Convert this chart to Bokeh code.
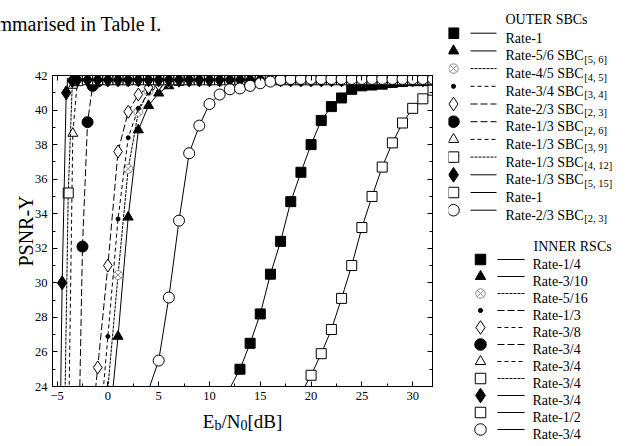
import numpy as np
from bokeh.plotting import figure
from bokeh.models import Range1d, LinearAxis, SingleIntervalTicker
from bokeh.layouts import row, column
from bokeh.embed import file_html
from bokeh.resources import INLINE
from bokeh.core.properties import value

FONT = "Liberation Serif"

# ---------------- data ----------------
plateau_x = [-3, -2, -1, 0, 1, 2, 3, 4, 5, 6, 7, 8, 9, 10, 11, 12, 13, 14, 15, 16,
             17, 18, 19, 20, 21, 22, 23, 24, 25, 26, 27, 28, 29, 30, 31, 32]
plateau_y = [41.7, 41.75, 41.75, 41.75, 41.75, 41.75, 41.75, 41.75, 41.75, 41.75,
             41.75, 41.75, 41.75, 41.75, 41.75, 41.75, 41.75, 41.75, 41.75, 41.75,
             41.75, 41.75, 41.75, 41.75, 41.75, 41.75, 41.75, 41.75, 41.75, 41.75,
             41.75, 41.75, 41.75, 41.75, 41.75, 41.75]

rate1_x = [12, 13, 14, 15, 16, 17, 18, 19, 20, 21, 22, 23, 24, 25, 26, 27, 28, 29, 30, 31, 32]
rate1_y = [23.9, 25.0, 26.5, 28.2, 30.5, 32.4, 34.7, 36.4, 38.0, 39.4, 40.2, 40.7, 41.2,
           41.4, 41.45, 41.5, 41.6, 41.65, 41.7, 41.7, 41.75]
sbc56_x = [0, 1, 2, 3, 4, 5, 6, 7]
sbc56_y = [20.9, 26.9, 33.8, 38.85, 40.26, 40.98, 41.4, 41.6]
sbc45_x = [0, 1, 2, 3, 4, 5, 6]
sbc45_y = [23.9, 30.45, 36.6, 39.9, 41.1, 41.5, 41.65]
sbc34_x = [-1, 0, 1, 2, 3, 4, 5, 6]
sbc34_y = [20.1, 26.9, 33.7, 38.4, 40.1, 41.0, 41.4, 41.6]
sbc23_x = [-2, -1, 0, 1, 2, 3, 4, 5, 6, 7]
sbc23_y = [19.2, 25.1, 31.0, 37.6, 39.9, 40.9, 41.3, 41.5, 41.6, 41.7]
sbc26_x = [-3, -2.5, -2, -1.5, -1]
sbc26_y = [16.5, 32.1, 39.3, 41.4, 41.65]
sbc39_x = [-4, -3.45, -3]
sbc39_y = [16.0, 38.65, 41.7]
sbc412_x = [-4.5, -3.9, -3.5, -3]
sbc412_y = [13.0, 35.2, 41.55, 41.7]
sbc515_x = [-5, -4.5, -4.1, -3.5, -3]
sbc515_y = [8.0, 30.0, 41.0, 41.7, 41.75]
rate1b_x = [19, 20, 21, 22, 23, 24, 25, 26, 27, 28, 29, 30, 31, 32]
rate1b_y = [23.6, 24.65, 25.9, 27.3, 29.1, 31.0, 33.2, 35.0, 36.7, 38.1, 39.25, 40.1, 40.65, 41.15]
sbc23b_x = [4, 5, 6, 7, 8, 9, 10, 11, 12, 13, 14, 15, 16, 17, 18, 19, 20, 21, 22, 23,
            24, 25, 26, 27, 28, 29, 30, 31, 32]
sbc23b_y = [23.8, 25.5, 29.15, 33.6, 37.5, 39.1, 40.35, 40.9, 41.2, 41.25, 41.4, 41.55,
            41.65, 41.75, 41.8, 41.8, 41.8, 41.8, 41.8, 41.8, 41.8, 41.8, 41.8, 41.8,
            41.8, 41.8, 41.8, 41.8, 41.8]

x_ticks_interval = 5
y_ticks_interval = 2

outer_labels = [("Rate-1", ""), ("Rate-5/6 SBC", "[5, 6]"), ("Rate-4/5 SBC", "[4, 5]"),
                ("Rate-3/4 SBC", "[3, 4]"), ("Rate-2/3 SBC", "[2, 3]"), ("Rate-1/3 SBC", "[2, 6]"),
                ("Rate-1/3 SBC", "[3, 9]"), ("Rate-1/3 SBC", "[4, 12]"), ("Rate-1/3 SBC", "[5, 15]"),
                ("Rate-1", ""), ("Rate-2/3 SBC", "[2, 3]")]
inner_labels = ["Rate-1/4", "Rate-3/10", "Rate-5/16", "Rate-1/3", "Rate-3/8", "Rate-3/4",
                "Rate-3/4", "Rate-3/4", "Rate-3/4", "Rate-1/2", "Rate-3/4"]
x_label_parts = [("E", False), ("b", True), ("/N", False), ("0", True), ("[dB]", False)]
top_text = "mmarised in Table I."


def with_plateau(tx, ty):
    xs = list(tx) + [px for px in plateau_x if px > tx[-1]]
    ys = list(ty) + [py for px, py in zip(plateau_x, plateau_y) if px > tx[-1]]
    return xs, ys


series = [
    (rate1_x, rate1_y),
    with_plateau(sbc56_x, sbc56_y),
    with_plateau(sbc45_x, sbc45_y),
    with_plateau(sbc34_x, sbc34_y),
    with_plateau(sbc23_x, sbc23_y),
    with_plateau(sbc26_x, sbc26_y),
    with_plateau(sbc39_x, sbc39_y),
    with_plateau(sbc412_x, sbc412_y),
    with_plateau(sbc515_x, sbc515_y),
    (rate1b_x, rate1b_y),
    (sbc23b_x, sbc23b_y),
]

GREY = "#8a8a8a"
styles = [
    ("square", 10, "black", "black", "solid"),
    ("triangle", 10, "black", "black", "solid"),
    ("circle_x", 9, "white", GREY, "3 1"),
    ("circle", 4, "black", "black", "4 3"),
    ("diamond", 13, "white", "black", "7 3"),
    ("circle", 11, "black", "black", "7 3"),
    ("triangle", 10, "white", "black", "4 3"),
    ("square", 10, "white", "black", "3 1"),
    ("diamond", 14, "black", "black", "solid"),
    ("square", 10, "white", "black", "solid"),
    ("circle", 11, "white", "black", "solid"),
]
inner_dash = ["solid", "solid", "3 1", "7 3", "4 3", "7 3", "4 3", "3 1", "solid", "solid", "solid"]

CW = {'E': .611, 'N': .722, '/': .278, '[': .333, ']': .333, 'd': .5, 'B': .667, 'b': .5, '0': .5,
      'R': .667, 'a': .444, 't': .278, 'e': .444, '-': .333, ' ': .25, 'S': .556, 'C': .667,
      '1': .5, '2': .5, '3': .5, '4': .5, '5': .5, '6': .5, '7': .5, '8': .5, '9': .5, ',': .25}


def tw(s, size):
    return sum(CW.get(c, .5) for c in s) * size


# ---------------- layout geometry (canvas pixels) ----------------
W_LEFT, H_TOTAL = 448, 446
H_TOP, H_BOT = 36, 39
H_MAIN = H_TOTAL - H_TOP - H_BOT
FRAME_L, FRAME_R = 52, 432      # frame x on page
FRAME_T, FRAME_B = 75, 386      # frame y on page

# ---------------- main plot ----------------
p = figure(width=W_LEFT, height=H_MAIN, x_range=Range1d(-5.45, 31.95), y_range=Range1d(24, 42),
           output_backend="svg", toolbar_location=None,
           min_border_left=FRAME_L, min_border_right=W_LEFT - FRAME_R,
           min_border_top=FRAME_T - H_TOP, min_border_bottom=H_TOP + H_MAIN - FRAME_B)
p.grid.visible = False
p.outline_line_color = "black"
p.outline_line_alpha = 1.0
p.background_fill_color = "white"
p.border_fill_color = "white"

p.xaxis.ticker = SingleIntervalTicker(interval=x_ticks_interval, num_minor_ticks=2)
p.yaxis.ticker = SingleIntervalTicker(interval=y_ticks_interval, num_minor_ticks=2)


def style_axis(ax, labels=True):
    ax.axis_line_color = "black"
    ax.major_tick_line_color = "black"
    ax.minor_tick_line_color = "black"
    ax.major_tick_in = 5
    ax.major_tick_out = 0
    ax.minor_tick_in = 3
    ax.minor_tick_out = 0
    ax.major_label_text_font = FONT
    ax.major_label_text_color = "black"
    ax.major_label_text_font_size = "12.5px" if labels else "0px"


style_axis(p.xaxis[0])
style_axis(p.yaxis[0])
p.xaxis.major_label_standoff = 5
p.yaxis.major_label_standoff = 5
p.yaxis.axis_label = "PSNR-Y"
p.yaxis.axis_label_text_font = FONT
p.yaxis.axis_label_text_font_style = "normal"
p.yaxis.axis_label_text_font_size = "20px"
p.yaxis.axis_label_text_color = "black"
p.yaxis.axis_label_standoff = -5

ra = LinearAxis(ticker=SingleIntervalTicker(interval=y_ticks_interval, num_minor_ticks=2))
style_axis(ra, labels=False)
ra.major_label_standoff = 0
p.add_layout(ra, "right")
ta = LinearAxis(ticker=SingleIntervalTicker(interval=x_ticks_interval, num_minor_ticks=2))
style_axis(ta, labels=False)
ta.major_label_standoff = 0
p.add_layout(ta, "above")

for (xs, ys), (mk, sz, fill, lc, dash) in zip(series, styles):
    xs = np.array(xs, dtype=float)
    ys = np.array(ys, dtype=float)
    p.line(xs, ys, line_color="black", line_width=1, line_dash=dash)
    m = ys >= 24
    p.scatter(xs[m], ys[m], marker=mk, size=sz, fill_color=fill, line_color=lc, line_width=1)


def panel(width, height, x0, y0):
    f = figure(width=width, height=height, x_range=Range1d(x0, x0 + width),
               y_range=Range1d(y0 + height, y0), output_backend="svg", toolbar_location=None,
               x_axis_type=None, y_axis_type=None, min_border=0, min_border_left=0,
               min_border_right=0, min_border_top=0, min_border_bottom=0)
    f.grid.visible = False
    f.outline_line_color = None
    return f


def txt(f, x, y, s, size):
    f.text([x], [y], text=[s], text_font=value(FONT), text_font_size=value(f"{size}px"),
           text_baseline="alphabetic", text_align="left", text_color="black")


# ---------------- top text ----------------
top = panel(W_LEFT, H_TOP, 0, 0)
txt(top, -4, 23.5, top_text, 20)

# ---------------- x axis label with subscripts ----------------
bot = panel(W_LEFT, H_BOT, 0, H_TOTAL - H_BOT)
FS_X, FS_XS = 19, 14
total = sum(tw(s, FS_XS if sub else FS_X) for s, sub in x_label_parts)
cx = (FRAME_L + FRAME_R) / 2 - total / 2
for s, sub in x_label_parts:
    sz = FS_XS if sub else FS_X
    txt(bot, cx, 420.5 + (4 if sub else 0), s, sz)
    cx += tw(s, sz)

# ---------------- legend panel ----------------
W_LEG = 627 - W_LEFT
q = panel(W_LEG, H_TOTAL, W_LEFT, 0)
FS, FSUB = 14, 10.5


def legend_block(header, header_x, y0, dy, labels, mx, lx0, lx1, tx, dashes):
    txt(q, header_x, y0 - dy + 4, header, FS)
    for i, (lab, st, dash) in enumerate(zip(labels, styles, dashes)):
        y = y0 + i * dy
        mk, sz, fill, lc, _ = st
        q.scatter([mx], [y], marker=mk, size=sz * 1.05, fill_color=fill, line_color=lc, line_width=1)
        q.line([lx0, lx1], [y, y], line_color="black", line_width=1, line_dash=dash)
        main, sub = lab if isinstance(lab, tuple) else (lab, "")
        txt(q, tx, y + 5, main, FS)
        if sub:
            txt(q, tx + tw(main, FS) + 0.5, y + 8.5, sub, FSUB)


legend_block("OUTER SBCs", 505, 32.7, 17.7, outer_labels, 453, 470, 496, 505, [s[4] for s in styles])
legend_block("INNER RSCs", 533, 259.0, 17.0, inner_labels, 480, 497, 524, 532, inner_dash)

left = column(row(top), p, row(bot))
layout = row(left, column(q))
open("out.html", "w").write(file_html(layout, INLINE))
